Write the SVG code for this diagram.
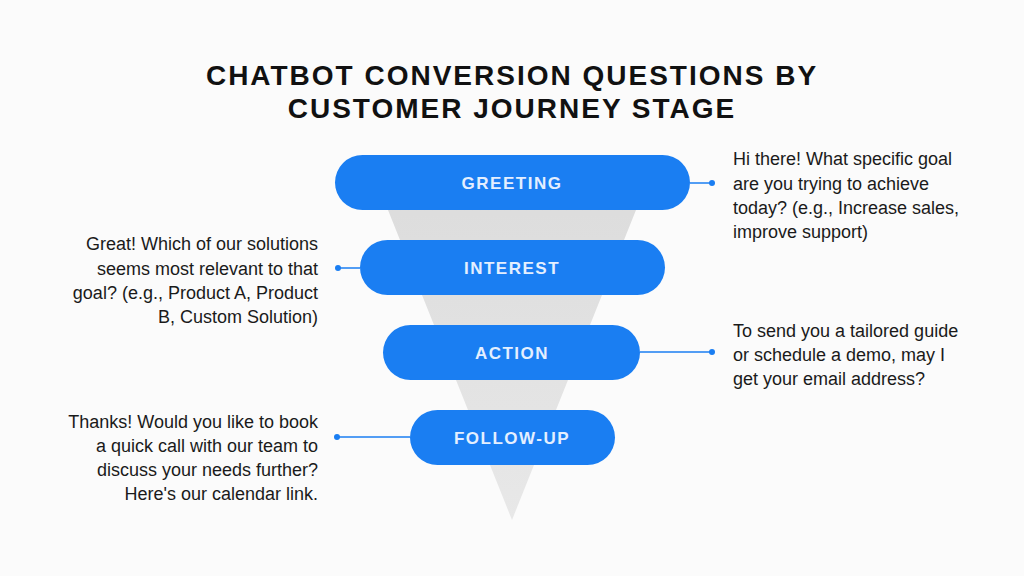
<svg xmlns="http://www.w3.org/2000/svg" width="1024" height="576" viewBox="0 0 1024 576">
<style>
.t{font-family:"Liberation Sans",Arial,sans-serif;font-weight:bold;font-size:28px;fill:#111;text-anchor:middle;letter-spacing:2px}
.p{fill:#1a7ef2}
.pl{font-family:"Liberation Sans",Arial,sans-serif;font-weight:bold;font-size:17px;fill:#e4efff;text-anchor:middle;letter-spacing:1.5px}
.d{font-family:"Liberation Sans",Arial,sans-serif;font-size:18px;fill:#1a1a1a}
.c{stroke:#1a7ef2;stroke-width:1.5;fill:none}
.dot{fill:#1a7ef2}
</style>
<defs><linearGradient id="g" x1="0" y1="0" x2="0" y2="1"><stop offset="0" stop-color="#dcdcdc"/><stop offset="1" stop-color="#e8e8e8"/></linearGradient></defs>
<rect width="1024" height="576" fill="#fbfbfb"/>
<text class="t" x="512" y="85">CHATBOT CONVERSION QUESTIONS BY</text>
<text class="t" x="512" y="118">CUSTOMER JOURNEY STAGE</text>
<polygon points="378,185 646,185 512,520" fill="url(#g)"/>
<g id="connectors">
<line class="c" x1="690" y1="183" x2="712" y2="183"/><circle class="dot" cx="712" cy="183" r="3"/>
<line class="c" x1="338" y1="268" x2="360" y2="268"/><circle class="dot" cx="338" cy="268" r="3"/>
<line class="c" x1="640" y1="352" x2="712" y2="352"/><circle class="dot" cx="712" cy="352" r="3"/>
<line class="c" x1="337" y1="437" x2="410" y2="437"/><circle class="dot" cx="337" cy="437" r="3"/>
</g>
<g id="greeting"><rect class="p" x="335" y="155" width="355" height="55" rx="27.5"/><text class="pl" x="512" y="189">GREETING</text></g>
<g id="interest"><rect class="p" x="360" y="240" width="305" height="55" rx="27.5"/><text class="pl" x="512" y="274">INTEREST</text></g>
<g id="action"><rect class="p" x="383" y="325" width="257" height="55" rx="27.5"/><text class="pl" x="512" y="359">ACTION</text></g>
<g id="followup"><rect class="p" x="410" y="410" width="205" height="55" rx="27.5"/><text class="pl" x="512" y="444">FOLLOW-UP</text></g>
<g id="greeting-text"><text class="d" x="733" y="165">Hi there! What specific goal</text><text class="d" x="733" y="190">are you trying to achieve</text><text class="d" x="733" y="214">today? (e.g., Increase sales,</text><text class="d" x="733" y="238">improve support)</text></g>
<g id="interest-text" text-anchor="end"><text class="d" x="318" y="250">Great! Which of our solutions</text><text class="d" x="318" y="275">seems most relevant to that</text><text class="d" x="318" y="299">goal? (e.g., Product A, Product</text><text class="d" x="318" y="323">B, Custom Solution)</text></g>
<g id="action-text"><text class="d" x="733" y="337">To send you a tailored guide</text><text class="d" x="733" y="361">or schedule a demo, may I</text><text class="d" x="733" y="385">get your email address?</text></g>
<g id="followup-text" text-anchor="end"><text class="d" x="318" y="428">Thanks! Would you like to book</text><text class="d" x="318" y="452">a quick call with our team to</text><text class="d" x="318" y="476">discuss your needs further?</text><text class="d" x="318" y="500">Here's our calendar link.</text></g>
</svg>
